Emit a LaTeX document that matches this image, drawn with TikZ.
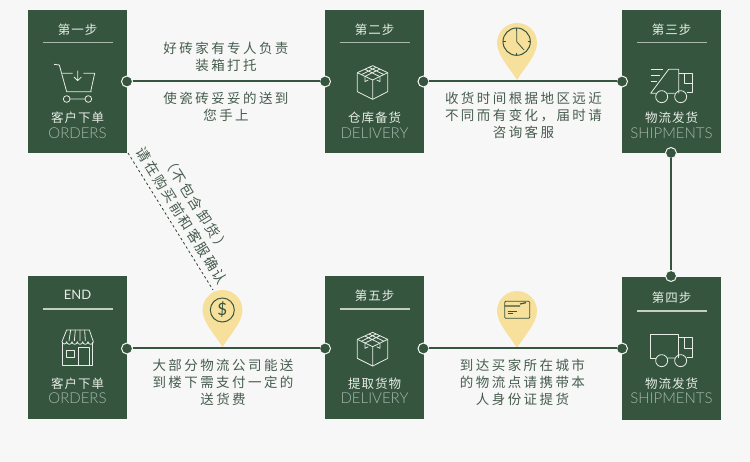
\documentclass[tikz,border=0pt]{standalone}
\usepackage{fontspec}
\newfontfamily\cjk[LetterSpace=18]{Noto Sans CJK SC}
\newfontfamily\cjklab[LetterSpace=8]{Noto Sans CJK SC}
\newfontfamily\cjknote[LetterSpace=14]{Noto Sans CJK SC}
\newfontfamily\latinlab{Lato}
\newfontfamily\latinthin{Lato Light}
\definecolor{bgc}{HTML}{F7F7F7}
\definecolor{gr}{HTML}{35553F}
\definecolor{pinc}{HTML}{F7E09B}
\definecolor{txt}{HTML}{465C4D}
\definecolor{faded}{HTML}{A8B8AD}
\definecolor{iconl}{HTML}{E8ECE6}
\tikzset{
 x=1pt,y=-1pt,
 stepbox/.style={fill=gr,draw=none,minimum width=99pt,minimum height=143pt,inner sep=0,outer sep=0},
 title/.style={text=iconl,inner sep=0,font=\cjklab\fontsize{12.5}{14}\selectfont},
 lab/.style={text=iconl,inner sep=0,font=\cjklab\fontsize{12.5}{14}\selectfont},
 eng/.style={text=faded,inner sep=0,font=\latinthin\fontsize{15}{16}\selectfont},
 body/.style={text=txt,inner sep=0,align=center,font=\cjk\fontsize{13.5}{17}\selectfont},
 ruleline/.style={faded,line width=1.2pt},
 dot/.style={circle,fill=gr,draw=bgc,line width=1pt,minimum size=11pt,inner sep=0,outer sep=0},
 conn/.style={gr,line width=2pt},
 icon/.style={iconl,line width=.8pt,line join=round},
 pinicon/.style={gr,line width=.8pt},
 pin/.style={fill=pinc,draw=none}
}
\newcommand{\pinshape}[2]{\fill[pin] (#1-20,#2) arc[start angle=180,end angle=360,radius=20] .. controls (#1+20,#2+12) and (#1+8,#2+24) .. (#1,#2+37) .. controls (#1-8,#2+24) and (#1-20,#2+12) .. cycle;}
\begin{document}
\begin{tikzpicture}
\useasboundingbox (0,0) rectangle (750,462);
\fill[bgc] (0,0) rectangle (750,462);
% boxes
\node[stepbox] (b1) at (77.5,81.5) {};
\node[stepbox] (b2) at (374.5,81.5) {};
\node[stepbox] (b3) at (671.5,81.5) {};
\node[stepbox] (b6) at (77.5,347.5) {};
\node[stepbox] (b5) at (374.5,347.5) {};
\node[stepbox] (b4) at (671.5,348.5) {};
% box texts
\node[title] (t1) at (77.5,30) {第一步};
\node[title] (t2) at (374.5,30) {第二步};
\node[title] (t3) at (671.5,30) {第三步};
\node[title,font=\latinlab\fontsize{13}{14}\selectfont] (t6) at (77.5,295) {END};
\node[title] (t5) at (374.5,296) {第五步};
\node[title] (t4) at (671.5,298) {第四步};
\draw[ruleline] (42.5,42.7) -- (112.7,42.7);
\draw[ruleline] (339.5,42.7) -- (409.7,42.7);
\draw[ruleline] (636.5,42.7) -- (706.7,42.7);
\draw[ruleline,iconl!80!gr] (42.5,309) -- (112.7,309);
\draw[ruleline,iconl!80!gr] (339.5,309) -- (409.7,309);
\draw[ruleline,iconl!80!gr] (636.5,311) -- (706.7,311);
\node[lab] (l1) at (77.5,118) {客户下单};
\node[eng] (e1) at (77.5,133.5) {ORDERS};
\node[lab] (l2) at (374.5,118) {仓库备货};
\node[eng] (e2) at (374.5,133.5) {DELIVERY};
\node[lab] (l3) at (671.5,118) {物流发货};
\node[eng] (e3) at (671.5,133.5) {SHIPMENTS};
\node[lab] (l6) at (77.5,384) {客户下单};
\node[eng] (e6) at (77.5,398.5) {ORDERS};
\node[lab] (l5) at (374.5,384) {提取货物};
\node[eng] (e5) at (374.5,398.5) {DELIVERY};
\node[lab] (l4) at (671.5,384) {物流发货};
\node[eng] (e4) at (671.5,398.5) {SHIPMENTS};
% pins
\pinshape{517}{43}
\pinshape{517}{311}
\pinshape{222.5}{310}
% connector dots
\node[dot] (d1r) at (127,81.5) {};
\node[dot] (d2l) at (325,81.5) {};
\node[dot] (d2r) at (423.5,81.5) {};
\node[dot] (d3l) at (622,81.5) {};
\node[dot] (d3b) at (671,153) {};
\node[dot] (d4t) at (671,276) {};
\node[dot] (d6r) at (127,348.5) {};
\node[dot] (d5l) at (325,348.5) {};
\node[dot] (d5r) at (423.5,348.5) {};
\node[dot] (d4l) at (622,348.5) {};
\draw[conn] (d1r) -- (d2l);
\draw[conn] (d2r) -- (d3l);
\draw[conn] (d3b) -- (d4t);
\draw[conn] (d6r) -- (d5l);
\draw[conn] (d5r) -- (d4l);
% body texts
\node[body] (x1) at (226,56.5) {好砖家有专人负责\\装箱打托};
\node[body] (x2) at (226,106.5) {使瓷砖妥妥的送到\\您手上};
\node[body] (x3) at (523.5,115) {收货时间根据地区远近\\不同而有变化，届时请\\咨询客服};
\node[body] (x6) at (223,382) {大部分物流公司能送\\到楼下需支付一定的\\送货费};
\node[body] (x5) at (522.5,382) {到达买家所在城市\\的物流点请携带本\\人身份证提货};
% dashed note
\coordinate (n1) at (128,153);
\coordinate (n2) at (213,290);
\draw[gr!80!black,line width=.8pt,dash pattern=on 2.5pt off 2.5pt] (n1) -- (n2);
\node[text=txt,inner sep=0,rotate=-58,font=\cjknote\fontsize{14}{16}\selectfont] (note1) at (182,216) {请在购买前和客服确认};
\node[text=txt,inner sep=0,rotate=-58,font=\cjknote\fontsize{14}{16}\selectfont] (note2) at (196,204) {（不包含卸货）};
% cart
\begin{scope}[shift={(0,0)},scale=1/3]
\draw[icon] (162,193) -- (178,195) -- (200,275) -- (275,275);
\draw[icon] (187,220) -- (218,220) (250,220) -- (284,220) -- (272,275);
\draw[icon] (233,212) -- (233,242) (222,231) -- (233,242) -- (244,231);
\draw[icon] (200,297) circle (10) (265,297) circle (10) (210,297) -- (255,297);
\end{scope}
% boxes icons
\foreach \dy in {0,266.7}{
\begin{scope}[shift={(320,\dy)},scale=1/3]
\draw[icon] (158,197) -- (203,218) -- (203,275) -- (158,298) -- (112,275) -- (112,218) -- cycle;
\draw[icon] (112,218) -- (158,240) -- (203,218) (158,240) -- (158,298);
\draw[icon] (135,208) -- (180,230) (180,207) -- (135,229) (147,202) -- (192,224) (168,202) -- (124,224);
\draw[icon] (135,229) -- (135,245) -- (145,240) (180,230) -- (180,245) -- (170,240);
\end{scope}}
% truck 3
\begin{scope}[shift={(320,0)},scale=1/3]
\draw[icon] (992,208) -- (1030,208) (992,225) -- (1020,225) (992,243) -- (1010,243);
\draw[icon] (1046,208) -- (1076,208) -- (1076,280) (1046,208) -- (992,280) -- (1008,280);
\draw[icon] (1076,220) -- (1118,220) -- (1118,278) -- (1100,278);
\draw[icon] (1094,220) -- (1094,250) -- (1118,250);
\draw[icon] (1025,290) circle (18) (1082,290) circle (18) (1043,280) -- (1064,280);
\end{scope}
% truck 4
\begin{scope}[shift={(320,270)},scale=1/3]
\draw[icon] (1007,264) -- (992,264) -- (992,192) -- (1076,192) -- (1076,264);
\draw[icon] (1076,203) -- (1118,203) -- (1118,262) -- (1100,262);
\draw[icon] (1094,203) -- (1094,234) -- (1118,234);
\draw[icon] (1025,272) circle (18) (1082,272) circle (18) (1043,264) -- (1064,264);
\end{scope}
% store
\begin{scope}[shift={(0,270)},scale=1/3]
\draw[icon] (188,215) -- (188,285) -- (278,285) -- (278,215);
\draw[icon] (200,180) -- (268,180) -- (280,215) arc[start angle=0,end angle=180,radius=8] arc[start angle=0,end angle=180,radius=8] arc[start angle=0,end angle=180,radius=8] arc[start angle=0,end angle=180,radius=8] arc[start angle=0,end angle=180,radius=8] arc[start angle=0,end angle=180,radius=7] -- cycle;
\draw[icon] (212,180) -- (207,213) (226,180) -- (223,213) (240,180) -- (240,213) (254,180) -- (256,213);
\draw[icon] (235,285) -- (235,232) -- (267,232) -- (267,285);
\draw[icon] (200,240) rectangle (222,263);
\end{scope}
% clock
\begin{scope}[shift={(320,0)},scale=1/3]
\draw[pinicon,line width=1pt] (590,125) circle (41);
\draw[pinicon] (590,88) -- (590,125) -- (612,150);
\draw[pinicon] (590,84) -- (590,92) (590,158) -- (590,166) (549,125) -- (557,125) (623,125) -- (631,125);
\end{scope}
% dollar
\begin{scope}[shift={(0,270)},scale=1/3]
\draw[pinicon,line width=1pt] (667,120) circle (36);
\node[text=gr,inner sep=0,font=\latinlab\fontsize{17}{18}\selectfont] (dollar) at (667,120) {\$};
\end{scope}
% card
\begin{scope}[shift={(320,270)},scale=1/3]
\draw[pinicon,rounded corners=1pt] (554,94) rectangle (629,145);
\draw[pinicon,line width=1.2pt] (554,108) -- (600,108) (600,102) -- (618,98);
\draw[pinicon,line width=1.2pt] (563,124) -- (590,124) (563,131) -- (580,131);
\end{scope}
\end{tikzpicture}
\end{document}
